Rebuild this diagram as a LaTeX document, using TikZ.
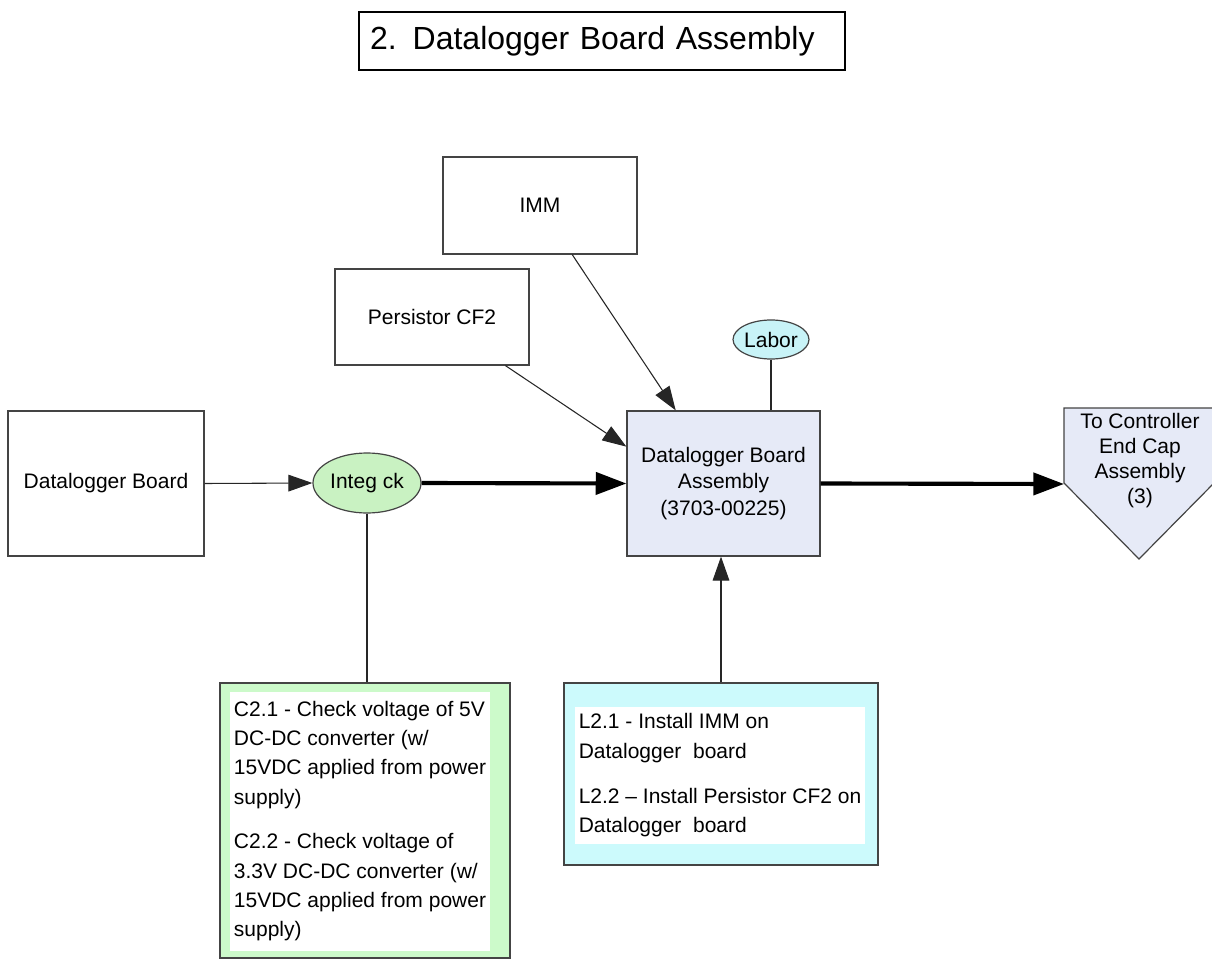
\documentclass[tikz,border=0pt]{standalone}
\usepackage{fontspec}
\setmainfont{Liberation Sans}
\usetikzlibrary{arrows.meta,shapes.geometric,calc}

\definecolor{asmfill}{HTML}{E6EAF7}
\definecolor{chkgreen}{HTML}{C9F2C2}
\definecolor{laborcyan}{HTML}{C8F3F7}
\definecolor{panelgreen}{HTML}{CCFACA}
\definecolor{panelcyan}{HTML}{CCFAFC}
\definecolor{edge}{HTML}{444444}

\begin{document}
\begin{tikzpicture}[x=0.75pt,y=-0.75pt,
  every node/.style={font=\fontsize{15.75}{20}\selectfont, inner sep=0pt},
  box/.style={draw=edge, line width=0.9pt, align=center},
  oval/.style={ellipse, draw=edge, line width=0.9pt},
  panel/.style={fill=white, align=left, font=\fontsize{15.75}{22}\selectfont},
  thinline/.style={draw=black!85, line width=0.8pt},
  thickline/.style={draw=black, line width=3.1pt},
  tip/.style={-{Triangle[length=18pt,width=12.5pt]}},
  bigtip/.style={-{Triangle[length=23pt,width=16.5pt]}},
]
\useasboundingbox (0,0) rectangle (1212,962);

% title
\node[box, draw=black, line width=1.4pt, text width=348pt, inner xsep=8.25pt,
      minimum height=43.5pt, align=left,
      font=\fontsize{24}{28}\selectfont] (title) at (602,41) {2. Datalogger Board Assembly};

% parts and process boxes
\node[box, minimum width=145.5pt, minimum height=72.75pt] (imm) at (540,205.5) {IMM};
\node[box, minimum width=145.5pt, minimum height=72pt] (pers) at (432,317) {Persistor CF2};
\node[oval, fill=laborcyan, minimum width=54pt, minimum height=29.25pt] (labor) at (771,339.5) {Labor};
\node[box, fill=asmfill, minimum width=144.75pt, minimum height=108.75pt] (asm) at (723.5,483.5)
     {Datalogger Board\\Assembly\\(3703-00225)};
\node[box, minimum width=147pt, minimum height=108.75pt] (dlb) at (106,483.5) {Datalogger Board};
\node[oval, fill=chkgreen, minimum width=81pt, minimum height=45pt] (integ) at (367,483) {Integ ck};

% off-page connector
\draw[box, fill=asmfill] (1064,408) -- (1214,408) -- (1214,483) -- (1139,559) -- (1064,483) -- cycle;
\node[align=center, font=\fontsize{15.75}{18.75}\selectfont] (cap) at (1140,461)
     {To Controller\\End Cap\\Assembly\\(3)};
\coordinate (capin) at (1064,484);

% check list
\node[box, fill=panelgreen, minimum width=217.5pt, minimum height=206.25pt] (chk) at (365,820.5) {};
\node[panel, minimum width=195pt, minimum height=194.25pt] (chktext) at (360,821)
     {C2.1 - Check voltage of 5V\\
      DC-DC converter (w/\\
      15VDC applied from power\\
      supply)\\[11.5pt]
      C2.2 - Check voltage of\\
      3.3V DC-DC converter (w/\\
      15VDC applied from power\\
      supply)};

% labor list
\node[box, fill=panelcyan, minimum width=235.5pt, minimum height=136.5pt] (lab) at (721,774) {};
\node[panel, minimum width=217.5pt, minimum height=102.75pt] (labtext) at (720,775.5)
     {L2.1 - Install IMM on\\
      Datalogger\ \ board\\[12pt]
      L2.2 -- Install Persistor CF2 on\\
      Datalogger\ \ board};

% connectors
\draw[thinline, tip] ($(imm.south west)!0.665!(imm.south east)$) -- ($(asm.north west)!0.254!(asm.north east)$);
\draw[thinline, tip] ($(pers.south west)!0.876!(pers.south east)$) -- ($(asm.north west)!0.248!(asm.south west)$);
\draw[thinline] (labor.south) -- (labor.south |- asm.north);
\draw[thinline, tip] (lab.north) -- (lab.north |- asm.south);
\draw[thinline] (integ.south) -- (integ.south |- chk.north);
\draw[thinline, tip] (dlb.east) -- (integ.west);
\draw[thickline, bigtip] (integ.east) -- (asm.west);
\draw[thickline, bigtip] (asm.east) -- (capin);
\end{tikzpicture}
\end{document}
